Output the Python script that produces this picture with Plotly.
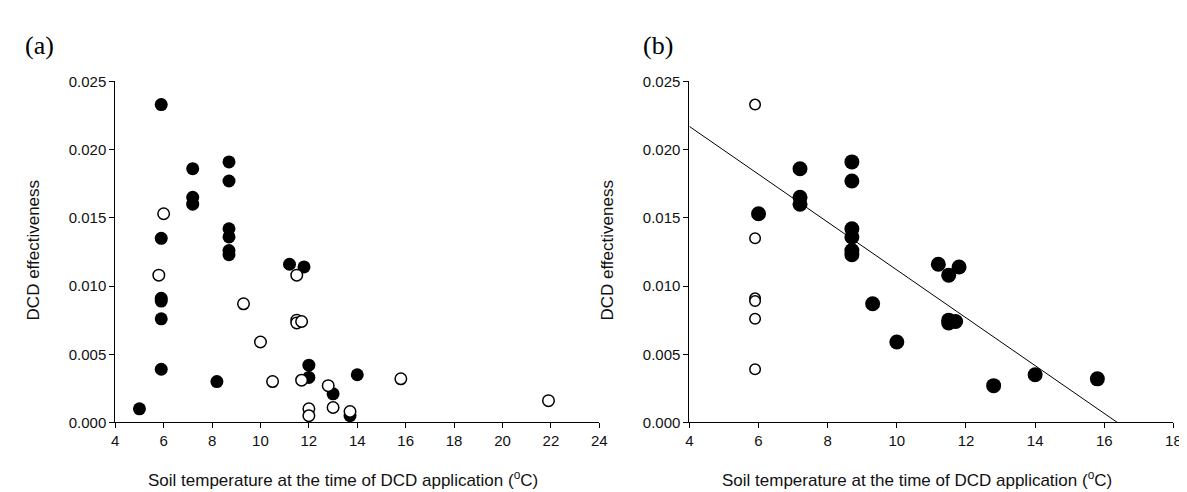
import plotly.graph_objects as go

# ---------------- Panel (a) data ----------------
a_filled_x = [5.0, 5.9, 5.9, 5.9, 5.9, 5.9, 5.9, 7.2, 7.2, 7.2, 8.2,
              8.7, 8.7, 8.7, 8.7, 8.7, 8.7, 11.2, 11.8, 12.0, 12.0, 13.0, 13.7, 14.0]
a_filled_y = [0.0010, 0.0233, 0.0135, 0.0091, 0.0089, 0.0076, 0.0039, 0.0186, 0.0165, 0.0160, 0.0030,
              0.0191, 0.0177, 0.0142, 0.0136, 0.0126, 0.0123, 0.0116, 0.0114, 0.0042, 0.0033, 0.0021, 0.0005, 0.0035]

a_open_x = [5.8, 6.0, 9.3, 10.0, 10.5, 11.5, 11.5, 11.5, 11.7, 11.7, 12.0, 12.0,
            12.8, 13.0, 13.7, 15.8, 21.9]
a_open_y = [0.0108, 0.0153, 0.0087, 0.0059, 0.0030, 0.0108, 0.0075, 0.0073, 0.0074, 0.0031, 0.0010, 0.0005,
            0.0027, 0.0011, 0.0008, 0.0032, 0.0016]

# ---------------- Panel (b) data ----------------
b_filled_x = [6.0, 7.2, 7.2, 7.2, 8.7, 8.7, 8.7, 8.7, 8.7, 8.7, 9.3, 10.0,
              11.2, 11.5, 11.5, 11.5, 11.7, 11.8, 12.8, 14.0, 15.8]
b_filled_y = [0.0153, 0.0186, 0.0165, 0.0160, 0.0191, 0.0177, 0.0142, 0.0136, 0.0126, 0.0123, 0.0087, 0.0059,
              0.0116, 0.0108, 0.0075, 0.0073, 0.0074, 0.0114, 0.0027, 0.0035, 0.0032]

b_open_x = [5.9, 5.9, 5.9, 5.9, 5.9, 5.9]
b_open_y = [0.0233, 0.0135, 0.0091, 0.0089, 0.0076, 0.0039]

# regression line
fit_intercept = 0.02871
fit_slope = -0.001753
fit_x = [4.0, 16.38]
fit_y = [fit_intercept + fit_slope * x for x in fit_x]

# axis ticks
a_xticks = [4, 6, 8, 10, 12, 14, 16, 18, 20, 22, 24]
b_xticks = [4, 6, 8, 10, 12, 14, 16, 18]
yticks = [0.000, 0.005, 0.010, 0.015, 0.020, 0.025]
ytick_text = ["0.000", "0.005", "0.010", "0.015", "0.020", "0.025"]

W, H = 1187, 492
FONT = "Liberation Sans, Arial, sans-serif"

fig = go.Figure()

fig.add_trace(go.Scatter(x=a_filled_x, y=a_filled_y, mode="markers", xaxis="x", yaxis="y",
                         marker=dict(size=13, color="black", line=dict(width=0))))
fig.add_trace(go.Scatter(x=a_open_x, y=a_open_y, mode="markers", xaxis="x", yaxis="y",
                         marker=dict(size=11.5, color="white", line=dict(color="black", width=1.5))))

fig.add_trace(go.Scatter(x=b_filled_x, y=b_filled_y, mode="markers", xaxis="x2", yaxis="y2",
                         marker=dict(size=15, color="black", line=dict(width=0))))
fig.add_trace(go.Scatter(x=b_open_x, y=b_open_y, mode="markers", xaxis="x2", yaxis="y2",
                         marker=dict(size=10.5, color="white", line=dict(color="black", width=1.5))))
fig.add_trace(go.Scatter(x=fit_x, y=fit_y, mode="lines", xaxis="x2", yaxis="y2",
                         line=dict(color="black", width=1)))

dom_y = [72 / H, (H - 66.7) / H]
dom_xa = [104.3 / W, 593.3 / W]
dom_xb = [684.3 / W, 1173.3 / W]

axis_common = dict(showline=True, linecolor="black", linewidth=1, ticks="outside", ticklen=5,
                   tickcolor="black", tickwidth=1, showgrid=False, zeroline=False, mirror=False,
                   tickfont=dict(family=FONT, size=15, color="#111111"))

fig.update_layout(
    width=W, height=H,
    margin=dict(l=0, r=0, t=0, b=0),
    paper_bgcolor="white", plot_bgcolor="white",
    showlegend=False,
    font=dict(family=FONT, color="black"),
    xaxis=dict(domain=dom_xa, range=[4, 24], tickvals=a_xticks, anchor="y", **axis_common),
    yaxis=dict(domain=dom_y, range=[0, 0.025], tickvals=yticks, ticktext=ytick_text, anchor="x", **axis_common),
    xaxis2=dict(domain=dom_xb, range=[4, 18], tickvals=b_xticks, anchor="y2", **axis_common),
    yaxis2=dict(domain=dom_y, range=[0, 0.025], tickvals=yticks, ticktext=ytick_text, anchor="x2", **axis_common),
)

xtitle = "Soil temperature at the time of DCD application (<sup>o</sup>C)"
for cx in [334, 914]:
    fig.add_annotation(text=xtitle, x=cx / W, y=1 - 479 / H, xref="paper", yref="paper",
                       showarrow=False, xanchor="center", yanchor="middle",
                       font=dict(family=FONT, size=17, color="#111111"))
for cx in [22, 602]:
    fig.add_annotation(text="DCD effectiveness", x=cx / W, y=1 - 242 / H, xref="paper", yref="paper",
                       showarrow=False, xanchor="center", yanchor="middle", textangle=-90,
                       font=dict(family=FONT, size=17, color="#111111"))
for label, lx in [("(a)", 11), ("(b)", 635)]:
    fig.add_annotation(text=label, x=lx / W, y=1 - 30 / H, xref="paper", yref="paper",
                       showarrow=False, xanchor="left", yanchor="middle",
                       font=dict(family="Liberation Serif, Times New Roman, serif", size=26, color="black"))

fig.write_html("out.html")
